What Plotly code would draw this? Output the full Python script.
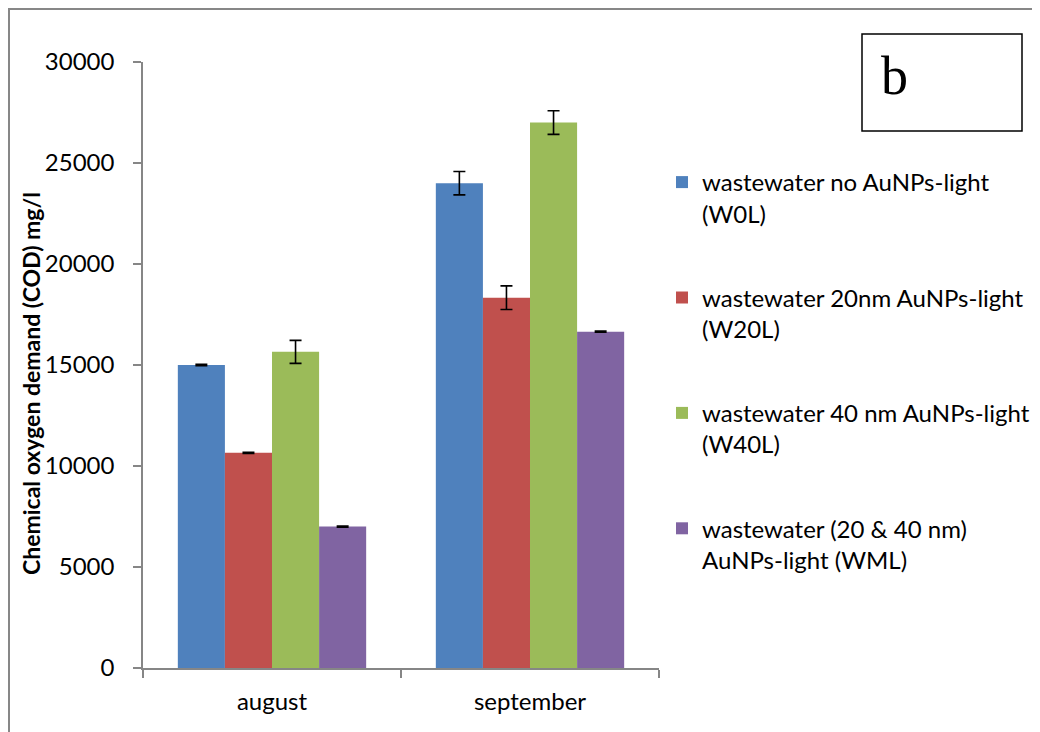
import plotly.graph_objects as go

W, H = 1040, 732
OFF = 8  # page body margin in the browser

categories = ["august", "september"]
series_names = [
    "wastewater no AuNPs-light<br>(W0L)",
    "wastewater 20nm AuNPs-light<br>(W20L)",
    "wastewater 40 nm AuNPs-light<br>(W40L)",
    "wastewater (20 & 40 nm)<br>AuNPs-light (WML)",
]
w0l = [15000, 24000]
w20l = [10650, 18330]
w40l = [15650, 27000]
wml = [7000, 16650]
w0l_err = [30, 580]
w20l_err = [30, 585]
w40l_err = [570, 585]
wml_err = [30, 30]
colors = ["#4F81BD", "#C0504D", "#9BBB59", "#8064A2"]
y_ticks = [0, 5000, 10000, 15000, 20000, 25000, 30000]
y_title = "Chemical oxygen demand (COD) mg/l"


def px_x(p):
    return (p - OFF) / W


def px_y(p):
    return 1 - (p - OFF) / H


values = [w0l, w20l, w40l, wml]
errors = [w0l_err, w20l_err, w40l_err, wml_err]

fig = go.Figure()
for i in range(4):
    fig.add_trace(go.Bar(
        x=categories, y=values[i], name=series_names[i],
        marker=dict(color=colors[i], line=dict(width=0)),
        error_y=dict(type="data", array=errors[i], visible=True,
                     color="black", thickness=1.6, width=6),
        legendgroup=str(i),
    ))

font_main = "Lato, Carlito, Calibri, sans-serif"

fig.update_layout(
    width=W, height=H,
    margin=dict(l=0, r=0, t=0, b=0, pad=0, autoexpand=False),
    paper_bgcolor="white", plot_bgcolor="white",
    barmode="group", bargap=0.27, bargroupgap=0,
    font=dict(family=font_main, size=24, color="black"),
    xaxis=dict(
        domain=[px_x(143), px_x(659)],
        showline=True, linecolor="#868686", linewidth=1.5,
        ticks="outside", ticklen=8, tickcolor="#868686", tickwidth=1.5,
        tickson="boundaries", showgrid=False,
        ticklabelstandoff=11, automargin=False,
        tickfont=dict(size=24, family=font_main),
        anchor="y",
    ),
    yaxis=dict(
        domain=[px_y(668), px_y(62)],
        range=[0, 30000], tickvals=y_ticks,
        tickformat="d",
        showline=True, linecolor="#868686", linewidth=1.5,
        ticks="outside", ticklen=8, tickcolor="#868686", tickwidth=1.5,
        showgrid=False, zeroline=False,
        ticklabelstandoff=14, automargin=False,
        tickfont=dict(size=24, family=font_main),
        anchor="x",
    ),
    legend=dict(
        x=px_x(662), y=px_y(160), xanchor="left", yanchor="top",
        valign="top", tracegroupgap=50, itemwidth=30,
        font=dict(size=24, family=font_main),
        bgcolor="rgba(0,0,0,0)",
    ),
    showlegend=True,
)

# y-axis title
fig.add_annotation(xref="paper", yref="paper", x=px_x(31), y=px_y(384),
                   text="<b>" + y_title + "</b>", textangle=-90,
                   showarrow=False, xanchor="center", yanchor="middle",
                   font=dict(size=23, family=font_main, color="black"))

# outer border
fig.add_shape(type="rect", xref="paper", yref="paper",
              x0=px_x(9), x1=px_x(1036), y0=px_y(760), y1=px_y(9),
              line=dict(color="#878787", width=2), layer="below")
# label box
fig.add_shape(type="rect", xref="paper", yref="paper",
              x0=px_x(862), x1=px_x(1022), y0=px_y(131), y1=px_y(34),
              line=dict(color="black", width=1.5))
fig.add_annotation(xref="paper", yref="paper", x=px_x(879), y=px_y(96),
                   text="b", showarrow=False, xanchor="left", yanchor="bottom",
                   yshift=-12,
                   font=dict(family="Liberation Serif, Times New Roman, serif",
                             size=54, color="black"))

fig.write_html("out.html")
